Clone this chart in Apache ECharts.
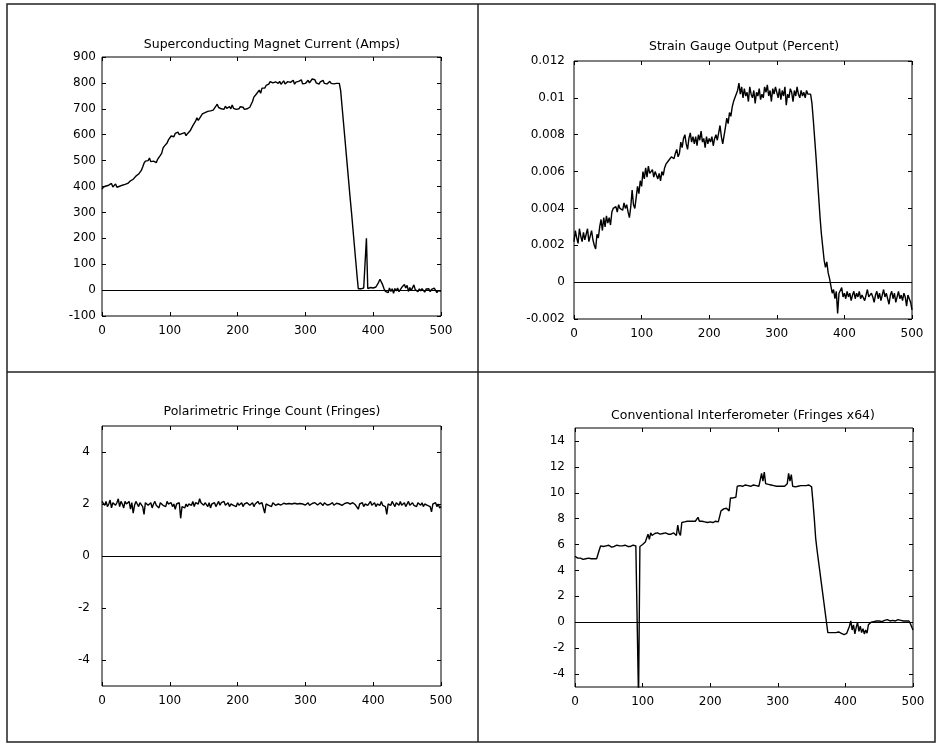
<!DOCTYPE html>
<html>
<head>
<meta charset="utf-8">
<title>Magnet test traces</title>
<script src="https://cdn.jsdelivr.net/npm/echarts@6/dist/echarts.min.js"></script>
<style>
  html, body { margin: 0; padding: 0; background: #fff; }
  #chart { width: 938px; height: 746px; }
</style>
</head>
<body>
<div id="chart"></div>
<script>
// one sample every 2 time units, 0..500
const sampleStep = 2;

const xTicks = [0, 100, 200, 300, 400, 500];

const magnetCurrent = [
  390, 398, 395, 402, 396, 405, 400, 412, 398, 404,
  410, 397, 403, 401, 396, 405, 401, 408, 404, 412,
  415, 422, 416, 428, 432, 440, 436, 448, 452, 462,
  475, 490, 498, 505, 500, 510, 496, 503, 498, 505,
  492, 505, 498, 520, 528, 548, 556, 562, 568, 580,
  585, 595, 600, 592, 605, 598, 610, 600, 596, 604,
  600, 608, 596, 604, 598, 615, 618, 635, 630, 652,
  665, 655, 660, 672, 680, 676, 685, 682, 690, 688,
  692, 686, 695, 700, 710, 718, 705, 712, 700, 706,
  698, 710, 702, 696, 708, 700, 715, 702, 705, 698,
  704, 700, 708, 702, 706, 698, 704, 700, 696, 706,
  712, 728, 745, 740, 758, 765, 772, 760, 780, 778,
  780, 790, 786, 795, 805, 798, 800, 795, 804, 800,
  798, 806, 795, 802, 808, 796, 800, 805, 798, 802,
  800, 810, 795, 803, 798, 806, 800, 812, 796, 802,
  798, 805, 810, 800, 796, 815, 808, 812, 800, 806,
  795, 804, 800, 810, 798, 803, 796, 800, 806, 798,
  802, 796, 800, 798, 800, 798, 770, 711, 652, 593,
  533, 474, 415, 355, 300, 240, 180, 120, 60, 5,
  2, 5, 0, 8, 3, 200, 6, 2, 10, 4,
  8, 5, 12, 10, 30, 42, 38, 20, 5, -5,
  2, -10, 8, -5, 5, -12, 6, -3, 8, -6,
  0, 10, 5, 22, 8, 18, -5, 10, -2, 5,
  20, 2, 8, -6, 5, -3, 6, 0, -8, 4,
  -2, 5, -6, 3, -4, 8, 2, -10, -2, 0,
  -5
];
const magnetTicks = [-100, 0, 100, 200, 300, 400, 500, 600, 700, 800, 900];

const strainGauge = [
  0.0022, 0.0028, 0.0024, 0.0021, 0.0029, 0.0025, 0.0022, 0.0027, 0.0023, 0.0026,
  0.0029, 0.0022, 0.0025, 0.0028, 0.0023, 0.0020, 0.0018, 0.0026, 0.0024, 0.0030,
  0.0034, 0.0028, 0.0035, 0.0030, 0.0036, 0.0032, 0.0035, 0.0031, 0.0038, 0.0040,
  0.0039, 0.0041, 0.0038, 0.0042, 0.0040, 0.0041, 0.0039, 0.0043, 0.0040, 0.0042,
  0.0038, 0.0035, 0.0041, 0.0050, 0.0042, 0.0040, 0.0046, 0.0052, 0.0048, 0.0055,
  0.0052, 0.0060, 0.0056, 0.0062, 0.0057, 0.0063, 0.0059, 0.0058, 0.0061, 0.0057,
  0.0060, 0.0058, 0.0056, 0.0059, 0.0055, 0.0060, 0.0058, 0.0062, 0.0064, 0.0063,
  0.0066, 0.0065, 0.0068, 0.0069, 0.0067, 0.0070, 0.0072, 0.0068, 0.0070, 0.0076,
  0.0073, 0.0078, 0.0080, 0.0075, 0.0072, 0.0078, 0.0081, 0.0076, 0.0079, 0.0075,
  0.0079, 0.0074, 0.0080, 0.0077, 0.0082, 0.0076, 0.0078, 0.0073, 0.0079, 0.0075,
  0.0078, 0.0076, 0.0079, 0.0074, 0.0078, 0.0080, 0.0077, 0.0076, 0.0085, 0.0079,
  0.0075, 0.0076, 0.0084, 0.0089, 0.0086, 0.0092, 0.0090, 0.0095, 0.0098, 0.0100,
  0.0099, 0.0104, 0.0108, 0.0102, 0.0106, 0.0100, 0.0105, 0.0101, 0.0103, 0.0098,
  0.0106, 0.0102, 0.0100, 0.0104, 0.0097, 0.0103, 0.0101, 0.0105, 0.0099, 0.0102,
  0.0100, 0.0106, 0.0103, 0.0107, 0.0101, 0.0104, 0.0098, 0.0105, 0.0102, 0.0106,
  0.0103, 0.0100, 0.0105, 0.0099, 0.0104, 0.0101, 0.0106, 0.0096, 0.0102, 0.0100,
  0.0105, 0.0103, 0.0098, 0.0104, 0.0101, 0.0106, 0.0102, 0.0100, 0.0104, 0.0101,
  0.0103, 0.0100, 0.0104, 0.0102, 0.0103, 0.0102, 0.0097, 0.0088, 0.0078, 0.0068,
  0.0057, 0.0046, 0.0035, 0.0026, 0.0019, 0.0012, 0.0008, 0.0011, 0.0005, 0.0002,
  -0.0002, -0.0006, -0.0004, -0.0009, -0.0005, -0.0017, -0.0006, -0.0007, -0.0003, -0.0008,
  -0.0006, -0.0009, -0.0005, -0.0008, -0.0006, -0.0010, -0.0007, -0.0005, -0.0009, -0.0006,
  -0.0008, -0.0005, -0.0009, -0.0007, -0.0006, -0.0010, -0.0007, -0.0004, -0.0008, -0.0009,
  -0.0006, -0.0008, -0.0011, -0.0007, -0.0005, -0.0009, -0.0006, -0.0010, -0.0007, -0.0004,
  -0.0008, -0.0006, -0.0009, -0.0012, -0.0007, -0.0005, -0.0009, -0.0006, -0.0011, -0.0008,
  -0.0005, -0.0009, -0.0007, -0.0010, -0.0006, -0.0008, -0.0013, -0.0007, -0.0009, -0.0011,
  -0.0015
];
const strainTicks = [-0.002, 0, 0.002, 0.004, 0.006, 0.008, 0.01, 0.012];

const fringeCount = [
  2.1, 2.05, 1.95, 2.1, 1.9, 2.0, 2.15, 1.85, 2.05, 2.1,
  1.95, 2.05, 2.2, 1.9, 2.1, 2.0, 1.85, 2.1, 2.0, 1.95,
  2.1, 1.8, 2.05, 1.65, 1.95, 2.1, 2.0, 1.9, 2.05, 2.0,
  1.9, 1.6, 2.05, 2.1, 1.95, 2.0, 2.05, 1.85, 2.0, 2.1,
  1.95, 2.0, 1.85, 2.05, 2.1, 1.95, 2.0, 1.9, 2.1, 2.0,
  1.95, 2.05, 1.9, 2.0, 1.8, 2.0, 1.95, 2.05, 1.45, 1.9,
  1.95, 1.85, 2.0, 1.9, 2.0, 2.05, 1.95, 2.1, 1.9, 2.05,
  2.1, 2.0, 2.2, 2.05, 2.1, 1.95, 2.05, 2.0, 1.9, 2.05,
  1.85, 2.0, 1.95, 2.05, 1.9, 2.0, 2.1, 1.95, 2.05, 2.0,
  2.1, 1.95, 2.0, 2.05, 1.9, 2.0, 2.05, 1.95, 2.0, 1.9,
  2.05, 1.95, 2.0, 2.05, 1.9, 2.0, 1.95, 2.05, 2.0, 1.95,
  2.0, 2.05, 1.9, 2.0, 1.95, 2.1, 2.0, 1.95, 2.05, 2.0,
  1.65, 2.0, 2.05, 1.95, 2.0, 1.9, 2.05, 2.0, 1.95, 2.0,
  2.0, 2.02, 1.96, 2.0, 2.03, 1.97, 2.0, 1.98, 2.02, 1.96,
  2.0, 1.97, 2.03, 1.98, 2.0, 1.95, 2.02, 1.98, 2.0, 2.04,
  1.96, 2.0, 2.05, 1.95, 2.0, 2.02, 1.97, 2.05, 2.0, 1.96,
  2.0, 2.05, 1.98, 1.94, 2.05, 2.0, 1.96, 2.02, 1.98, 2.0,
  2.05, 1.95, 2.0, 2.03, 1.97, 2.0, 2.05, 1.95, 2.0, 2.02,
  1.96, 2.05, 1.98, 2.0, 1.95, 2.05, 2.0, 1.96, 2.03, 1.8,
  2.0, 1.95, 2.05, 1.9, 2.0, 2.05, 1.95, 2.0, 2.1, 1.95,
  2.0, 2.05, 1.9, 2.0, 2.05, 1.95, 2.1, 1.95, 2.0, 1.9,
  1.6, 2.0, 2.05, 1.95, 2.1, 2.0, 1.9, 2.05, 2.0, 1.95,
  2.1, 1.95, 2.0, 2.05, 1.9, 2.0, 2.1, 1.95, 2.0, 2.05,
  1.95, 2.0, 1.9, 2.05, 2.0, 1.95, 2.05, 1.9, 2.0, 2.05,
  1.95, 2.0, 1.9, 1.7, 2.0, 1.95, 2.05, 1.9, 2.0, 1.85,
  1.9
];
const fringeTicks = [-4, -2, 0, 2, 4];

const interferometer = [
  5.1, 5.0, 4.95, 4.9, 4.95, 4.9, 4.85, 4.95, 4.9, 5.0,
  4.95, 4.85, 4.9, 4.8, 4.9, 4.85, 4.9, 4.85, 5.6, 5.9,
  5.95, 5.85, 5.95, 5.9, 5.85, 5.95, 5.9, 5.8, 5.9, 5.85,
  5.9, 5.95, 5.85, 5.9, 5.8, 5.9, 5.85, 5.95, 5.8, 5.85,
  5.9, 5.85, 5.9, 5.95, 5.85, 5.9, 5.8, -6.0, 5.85, 5.9,
  6.0, 6.1, 6.2, 6.3, 6.8, 6.4, 6.9, 6.7, 6.8, 6.85,
  6.8, 6.9, 6.85, 6.8, 6.9, 6.85, 6.8, 6.9, 6.85, 6.8,
  6.9, 6.8, 6.85, 6.9, 6.8, 6.7, 7.5, 6.9, 6.7, 7.7,
  7.8, 7.75, 7.85, 7.8, 7.75, 7.8, 7.85, 7.8, 7.75, 7.8,
  7.85, 8.1, 7.8, 7.75, 7.8, 7.85, 7.75, 7.8, 7.7, 7.8,
  7.75, 7.8, 7.7, 7.75, 7.8, 7.7, 7.75, 7.7, 8.6, 8.7,
  8.75, 8.7, 8.8, 8.7, 8.6, 9.6, 9.7, 9.6, 9.7, 9.65,
  10.5, 10.6, 10.55, 10.6, 10.5, 10.55, 10.6, 10.5, 10.55, 10.6,
  10.5, 10.55, 10.6, 10.5, 10.55, 10.6, 10.5, 10.6, 11.5, 10.9,
  11.6, 10.7, 10.6, 10.65, 10.55, 10.6, 10.5, 10.55, 10.6, 10.5,
  10.45, 10.5, 10.55, 10.5, 10.6, 10.5, 10.55, 10.7, 11.5, 10.9,
  11.4, 10.5, 10.6, 10.45, 10.55, 10.5, 10.6, 10.55, 10.5, 10.55,
  10.5, 10.55, 10.5, 10.6, 10.5, 10.45, 9.3, 8.0, 6.5, 5.6,
  4.8, 4.0, 3.2, 2.4, 1.6, 0.8, 0.0, -0.8, -0.85, -0.8,
  -0.75, -0.8, -0.85, -0.8, -0.9, -0.75, -0.8, -0.85, -0.8, -0.95,
  -0.8, -0.85, -0.8, -0.3, 0.1, -0.6, -0.2, -0.9, -0.4, 0.0,
  -0.7, -0.3, -0.8, -0.5, -0.9, -0.6, -0.85, -0.2, -0.1, 0.0,
  0.1, 0.05, 0.15, 0.1, 0.2, 0.1, 0.15, 0.05, 0.2, 0.15,
  0.1, 0.2, 0.15, 0.1, 0.05, 0.15, 0.2, 0.1, 0.15, 0.2,
  0.1, 0.15, 0.05, 0.1, 0.2, 0.1, 0.0, 0.1, -0.1, 0.05,
  -0.6
];
const interferometerTicks = [-4, -2, 0, 2, 4, 6, 8, 10, 12, 14];

const FONT = "'DejaVu Sans', 'Liberation Sans', Arial, sans-serif";

const panels = [
  { title: "Superconducting Magnet Current (Amps)", titleX: 272, titleY: 45,
    grid: { left: 102, top: 57, width: 339, height: 259 },
    values: magnetCurrent, yMin: -100, yMax: 900, yTicks: magnetTicks, labelMargin: 6 },
  { title: "Strain Gauge Output (Percent)", titleX: 744, titleY: 47,
    grid: { left: 574, top: 61, width: 338, height: 258 },
    values: strainGauge, yMin: -0.002, yMax: 0.012, yTicks: strainTicks, labelMargin: 9 },
  { title: "Polarimetric Fringe Count (Fringes)", titleX: 272, titleY: 412,
    grid: { left: 102, top: 426, width: 339, height: 260 },
    values: fringeCount, yMin: -5, yMax: 5, yTicks: fringeTicks, labelMargin: 12 },
  { title: "Conventional Interferometer (Fringes x64)", titleX: 743, titleY: 416,
    grid: { left: 575, top: 428, width: 338, height: 259 },
    values: interferometer, yMin: -5, yMax: 15, yTicks: interferometerTicks, labelMargin: 10 },
];

function toPoints(values) {
  return values.map((v, i) => [i * sampleStep, v]);
}

function makeXAxis(gridIndex, position) {
  return {
    type: "value",
    gridIndex: gridIndex,
    position: position,
    min: 0,
    max: 500,
    axisLine: { show: false, onZero: false },
    axisTick: { show: true, inside: true, length: 4, customValues: xTicks,
      lineStyle: { color: "#000", width: 1 } },
    axisLabel: { show: position === "bottom", customValues: xTicks, color: "#000",
      fontSize: 12, fontFamily: FONT, margin: 9 },
    splitLine: { show: false },
  };
}

function makeYAxis(gridIndex, position, p) {
  return {
    type: "value",
    gridIndex: gridIndex,
    position: position,
    min: p.yMin,
    max: p.yMax,
    axisLine: { show: false, onZero: false },
    axisTick: { show: true, inside: true, length: 4, customValues: p.yTicks,
      lineStyle: { color: "#000", width: 1 } },
    axisLabel: { show: position === "left", customValues: p.yTicks, color: "#000",
      fontSize: 12, fontFamily: FONT, margin: p.labelMargin },
    splitLine: { show: false },
  };
}

function buildOption() {
  const grid = [];
  const xAxis = [];
  const yAxis = [];
  const series = [];
  const graphic = [
    { type: "rect", silent: true,
      shape: { x: 7, y: 4, width: 928, height: 738 },
      style: { fill: "none", stroke: "#222", lineWidth: 1.5 } },
    { type: "line", silent: true,
      shape: { x1: 478, y1: 4, x2: 478, y2: 742 },
      style: { stroke: "#222", lineWidth: 1.5 } },
    { type: "line", silent: true,
      shape: { x1: 7, y1: 372, x2: 935, y2: 372 },
      style: { stroke: "#222", lineWidth: 1.5 } },
  ];

  panels.forEach((p, i) => {
    grid.push(Object.assign({ show: true, borderColor: "#000", borderWidth: 1,
      backgroundColor: "transparent", containLabel: false }, p.grid));
    xAxis.push(makeXAxis(i, "bottom"), makeXAxis(i, "top"));
    yAxis.push(makeYAxis(i, "left", p), makeYAxis(i, "right", p));

    series.push({
      type: "line",
      xAxisIndex: i * 2,
      yAxisIndex: i * 2,
      data: toPoints(p.values),
      showSymbol: false,
      symbol: "none",
      clip: true,
      lineStyle: { color: "#000", width: 1.4 },
      markLine: {
        silent: true,
        symbol: "none",
        label: { show: false },
        lineStyle: { color: "#000", width: 1, type: "solid" },
        data: [{ yAxis: 0 }],
      },
    });

    graphic.push({
      type: "text",
      silent: true,
      style: {
        text: p.title,
        x: p.titleX,
        y: p.titleY,
        textAlign: "center",
        textVerticalAlign: "middle",
        fill: "#000",
        font: "12.5px " + FONT,
      },
    });
  });

  return { animation: false, backgroundColor: "#fff", grid, xAxis, yAxis, series, graphic };
}

const chart = echarts.init(document.getElementById("chart"));
chart.setOption(buildOption());
</script>
</body>
</html>
